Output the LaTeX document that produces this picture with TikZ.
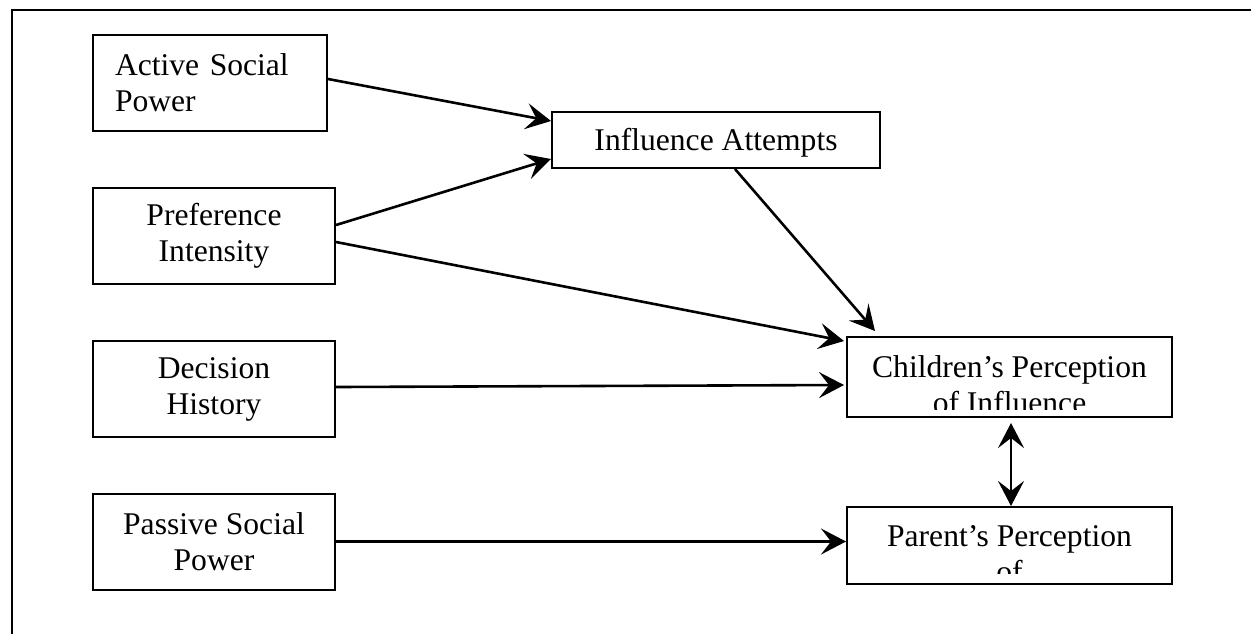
\documentclass[tikz,border=0pt]{standalone}
\usepackage{fontspec}
\setmainfont{Liberation Serif}
\usetikzlibrary{arrows.meta,calc}

\begin{document}
\begin{tikzpicture}[x=0.5pt, y=-0.5pt,
		>={Stealth[length=12.5pt, width=13pt, inset=5pt]},
		box/.style={draw, line width=1pt, inner sep=0pt, align=center, font=\fontsize{15.8}{18}\selectfont},
		leftbox/.style={box, minimum width=121pt, minimum height=48pt},
		boxtext/.style={inner sep=0pt, align=center, font=\fontsize{15.8}{18}\selectfont},
		link/.style={->, line width=1.3pt}]

			\useasboundingbox (0,0) rectangle (1251,633);
			\draw[line width=1pt] (1300,10) -- (12,10) -- (12,700);

			% causes
			\node (act) [box, minimum width=117pt, minimum height=48pt, text width=95pt, align=left] at (210,83) {Active Social\\Power};
			\node (pref) [leftbox] at (214,236) {Preference\\Intensity};
			\node (dec) [leftbox] at (214,389) {Decision\\History};
			\node (pas) [leftbox] at (214,541.5) {Passive Social\\Power};

			\node (inf) [box, minimum width=164pt, minimum height=28pt, text depth=1pt] at (716,140) {Influence Attempts};

			% perception boxes, text cut off at the bottom
			\node (chp) [box, minimum width=162.5pt, minimum height=40pt] at (1009.5,377) {};
			\begin{scope}
				\clip (chp.north west) rectangle ($(chp.south east)+(0,-9)$);
				\node (chptext) [boxtext, anchor=north] at ($(chp.north)+(0,19)$) {Children's Perception\\of Influence};
			\end{scope}

			\node (par) [box, minimum width=162.5pt, minimum height=38.5pt] at (1009.5,545.5) {};
			\begin{scope}
				\clip (par.north west) rectangle ($(par.south east)+(0,-12)$);
				\node (partext) [boxtext, anchor=north] at ($(par.north)+(0,19)$) {Parent's Perception\\of};
			\end{scope}

			\draw[link] ($(act.east)+(0,-4)$) -- ($(inf.north west)+(0,10)$);
			\draw[link] ($(pref.east)+(0,-11)$) -- ($(inf.south west)+(0,-10)$);
			\draw[link] ($(pref.east)+(0,6)$) -- ($(chp.north west)+(-2,5)$);
			\draw[link] ($(inf.south)+(19,0)$) -- ($(chp.north west)+(29,-5)$);
			\draw[link] ($(dec.east)+(0,-2)$) -- ($(dec.east -| chp.west)+(-2,-4)$);
			\draw[link] (pas.east) -- (pas.east -| par.west);
			\draw[link, <->] ($(chp.south)+(1.5,5)$) -- ($(par.north)+(1.5,0)$);
		\end{tikzpicture}
\end{document}
